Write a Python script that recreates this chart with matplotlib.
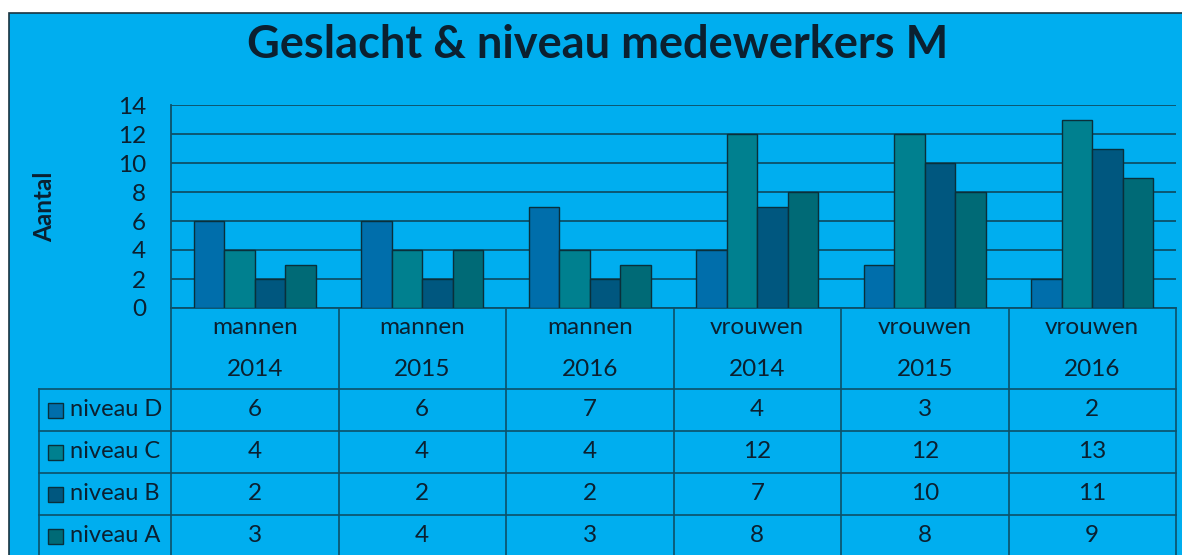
import numpy as np
import matplotlib.pyplot as plt
from matplotlib.patches import Rectangle
from matplotlib.transforms import blended_transform_factory

plt.rcParams['font.family'] = ['Lato', 'DejaVu Sans']

groups = ['mannen', 'mannen', 'mannen', 'vrouwen', 'vrouwen', 'vrouwen']
years = ['2014', '2015', '2016', '2014', '2015', '2016']
series = ['niveau D', 'niveau C', 'niveau B', 'niveau A']
niveau_d = [6, 6, 7, 4, 3, 2]
niveau_c = [4, 4, 4, 12, 12, 13]
niveau_b = [2, 2, 2, 7, 10, 11]
niveau_a = [3, 4, 3, 8, 8, 9]
values = [niveau_d, niveau_c, niveau_b, niveau_a]
colors = ['#006EAB', '#00808F', '#00577F', '#006A76']

W, H = 1182, 555
bg_col = '#00AEEF'
line_col = '#0D5068'
txt_col = '#0B2030'

fig = plt.figure(figsize=(W / 100, H / 100), dpi=100)
fig.patch.set_facecolor('white')
fig.add_artist(Rectangle((9 / W, -0.01), 1, (H - 13) / H + 0.01, transform=fig.transFigure,
                         facecolor=bg_col, edgecolor='#1A3440', lw=1.2, zorder=0))

# bar chart
ax = fig.add_axes([171 / W, (H - 308) / H, 1005 / W, 203 / H])
ax.set_facecolor('none')
x = np.arange(len(years))
w = 0.182
for i, (vals, c) in enumerate(zip(values, colors)):
    ax.bar(x + (i - 1.5) * w, vals, w, color=c, edgecolor='#0A2F3A', lw=1, zorder=3)
ax.set_xlim(-0.5, len(years) - 0.5)
ax.set_ylim(0, 14)
ax.set_yticks(range(0, 15, 2))
ax.set_xticks([])
ax.yaxis.grid(True, color=line_col, lw=1.3)
ax.set_axisbelow(True)
ax.tick_params(axis='y', length=0, pad=18, labelsize=17.5, labelcolor=txt_col)
for s in ['top', 'right']:
    ax.spines[s].set_visible(False)
ax.spines['left'].set_color(line_col)
ax.spines['bottom'].set_color(line_col)
ax.spines['left'].set_linewidth(1.3)
ax.spines['bottom'].set_linewidth(1.3)

# overlay in pixel coordinates for title, label and data table
ov = fig.add_axes([0, 0, 1, 1])
ov.set_xlim(0, W)
ov.set_ylim(H, 0)
ov.axis('off')
ov.patch.set_alpha(0)
tr = blended_transform_factory(ax.transData, ov.transData)

ov.text(598, 45, 'Geslacht & niveau medewerkers M', ha='center', va='center',
        fontsize=32.5, fontweight='bold', color=txt_col)
ov.text(45, 207, 'Aantal', rotation=90, ha='center', va='center',
        fontsize=17.5, fontweight='bold', color=txt_col)

# table grid
for k in range(len(years) + 1):
    ov.plot([k - 0.5, k - 0.5], [308, 560], color=line_col, lw=1.2, transform=tr)
ov.plot([39, 39], [389, 560], color=line_col, lw=1.2)
for yy in [389, 431, 473, 515, 557]:
    ov.plot([39, 1176], [yy, yy], color=line_col, lw=1.2)

# header
for i in range(len(years)):
    ov.text(i, 328, groups[i], ha='center', va='center', fontsize=17.5, color=txt_col, transform=tr)
    ov.text(i, 369, years[i], ha='center', va='center', fontsize=17.5, color=txt_col, transform=tr)

# rows
for r, (name, vals, c) in enumerate(zip(series, values, colors)):
    yc = 410 + 42 * r
    ov.add_patch(Rectangle((48, yc - 7.5), 15, 15, facecolor=c, edgecolor='#0A2F3A', lw=1))
    ov.text(70, yc, name, ha='left', va='center', fontsize=17, color=txt_col)
    for i, v in enumerate(vals):
        ov.text(i, yc, str(v), ha='center', va='center', fontsize=17.5, color=txt_col, transform=tr)

fig.savefig('out.png', dpi=100)
